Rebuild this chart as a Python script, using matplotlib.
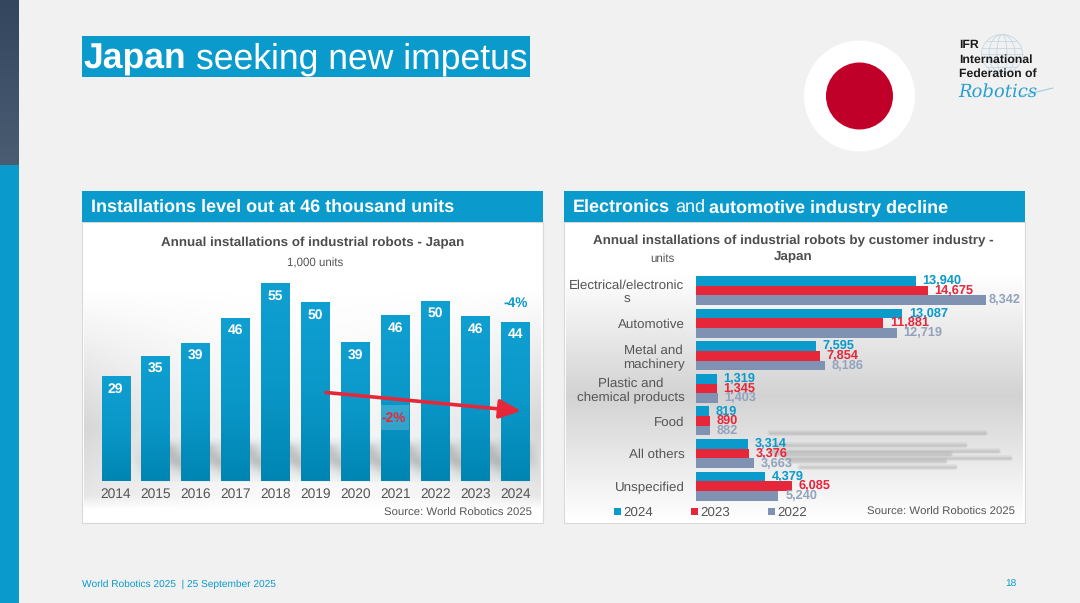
import numpy as np
import matplotlib
matplotlib.use("Agg")
import matplotlib.pyplot as plt
from matplotlib.colors import LinearSegmentedColormap
from matplotlib.patches import Rectangle, Circle, Ellipse

plt.rcParams['font.family'] = ['Liberation Sans', 'DejaVu Sans']
plt.rcParams['text.hinting'] = 'no_hinting'
plt.rcParams['text.kerning_factor'] = 6

# left chart
years = ['2014', '2015', '2016', '2017', '2018', '2019', '2020', '2021', '2022', '2023', '2024']
installs = [29, 35, 39, 46, 55, 50, 39, 46, 50, 46, 44]
bar_tops = [29.2, 34.8, 38.4, 45.4, 55.0, 49.7, 38.5, 46.1, 50.1, 45.8, 44.2]

# right chart
industries = ['Electrical/electronic\ns', 'Automotive', 'Metal and\nmachinery',
              'Plastic and\nchemical products', 'Food', 'All others', 'Unspecified']
units_2024 = [13940, 13087, 7595, 1319, 819, 3314, 4379]
units_2023 = [14675, 11881, 7854, 1345, 890, 3376, 6085]
units_2022 = [18342, 12719, 8186, 1403, 882, 3663, 5240]
# the first 2022 label is cut off in the source slide
labels_2022 = ['8,342', '12,719', '8,186', '1,403', '882', '3,663', '5,240']

BLUE = '#0a9acb'
RED = '#e6273a'
SLATE = '#7f92b2'
TEXT = '#555555'

fig = plt.figure(figsize=(10.8, 6.03), dpi=100, facecolor='#f1f1f1')

# background layer in pixel coordinates
bg = fig.add_axes([0, 0, 1, 1], zorder=0)
bg.axis('off')

side = LinearSegmentedColormap.from_list('side', ['#34465e', '#4a5c72'])
bg.imshow(np.linspace(0, 1, 50).reshape(-1, 1), extent=(0, 19, 165, 0), cmap=side, aspect='auto')
bg.add_patch(Rectangle((0, 165), 19, 438, color=BLUE, lw=0))

# title
bg.add_patch(Rectangle((82, 36), 448, 41, color=BLUE, lw=0))
bg.text(83, 68.5, 'Japan', color='white', fontsize=25.6, fontweight='bold', va='baseline')
bg.text(196, 68.5, 'seeking new impetus', color='white', fontsize=25.6, va='baseline')

# flag
bg.add_patch(Circle((859.5, 96), 55.5, color='white', lw=0))
bg.add_patch(Circle((859.5, 96), 33.5, color='#c00029', lw=0))

# IFR logo
for w in [41, 26, 10]:
    bg.add_patch(Ellipse((1002, 54), w, 39, fill=False, ec='#c3d8e4', lw=0.6))
for dy, w in [(-13, 30), (-6.5, 38), (0, 41), (6.5, 38), (13, 30)]:
    bg.plot([1002 - w / 2, 1002 + w / 2], [54 + dy, 54 + dy], color='#c3d8e4', lw=0.6)
for y, s in [(45, 'IFR'), (60, 'International'), (74, 'Federation of')]:
    bg.text(959, y, s, color='#1a1a1a', fontsize=8.8, fontweight='bold', va='center')
bg.text(958, 92, 'Robotics', color='#2a9fd0', fontsize=13, style='italic', va='center',
        family='DejaVu Serif')
bg.plot([1020, 1053], [96, 88], color='#8fcbe4', lw=0.7)

# panels
for x0 in [82, 564]:
    bg.add_patch(Rectangle((x0, 222), 461, 301, fc='white', ec='#d8d8d8', lw=0.8))
    bg.add_patch(Rectangle((x0, 191), 461, 31, color=BLUE, lw=0))

grad = np.linspace(0, 1, 200).reshape(-1, 1)
left_h = np.abs(np.linspace(-1, 1, 300))[None, :] ** 2
left_v = np.interp(np.linspace(0, 1, 200), [0, 0.2, 0.7, 0.95, 1], [0, 0, 1, 0.6, 0])[:, None]
rgba = np.ones((200, 300, 4))
rgba[..., :3] = 0.72
rgba[..., 3] = (0.12 + 0.45 * left_h) * left_v
bg.imshow(rgba, extent=(84, 541, 510, 235), aspect='auto', zorder=1)

right_v = np.interp(np.linspace(0, 1, 200), [0, 0.12, 0.55, 0.8, 1], [0, 0, 1, 0.45, 0])[:, None]
rgba = np.ones((200, 300, 4))
rgba[..., :3] = 0.72
rgba[..., 3] = 0.62 * right_v * np.ones((1, 300))
bg.imshow(rgba, extent=(566, 1023, 522, 240), aspect='auto', zorder=1)

# soft slanted floor shadow under the left bars
px, py = np.meshgrid(np.arange(130, 540), np.arange(436, 482))
slant = px + (py - 436) * -1.0
wave = 0.5 + 0.5 * np.cos(2 * np.pi * (slant - 112) / 39.96)
env = np.interp(py, [436, 446, 462, 481], [0, 0.9, 0.9, 0.2])
fade = np.interp(px, [130, 160, 520, 540], [0, 1, 1, 0])
rgba = np.ones(px.shape + (4,))
rgba[..., :3] = 0.5
rgba[..., 3] = 0.5 * env * fade * (0.45 + 0.55 * wave)
bg.imshow(rgba, extent=(130, 540, 482, 436), aspect='auto', zorder=2)

# blurry streaks behind the lower right bars
for y, x0, x1 in [(433, 770, 985), (445, 775, 965), (451, 770, 998), (454, 775, 950),
                  (458, 785, 1010), (461, 790, 945), (467, 800, 955)]:
    for lw in [1, 2.5, 4]:
        bg.plot([x0, x1], [y, y], color='#777777', alpha=0.1, lw=lw, solid_capstyle='round', zorder=2)

bg.text(91, 212, 'Installations level out at 46 thousand units', color='white', fontsize=13,
        fontweight='bold', va='baseline', zorder=3)
bg.text(573, 212, 'Electronics', color='white', fontsize=13, fontweight='bold', va='baseline', zorder=3)
bg.text(675, 212, 'and', color='white', fontsize=13, va='baseline', zorder=3)
bg.text(709, 212, 'automotive industry decline', color='white', fontsize=13, fontweight='bold',
        va='baseline', zorder=3)
bg.set_xlim(0, 1080)
bg.set_ylim(603, 0)

# left bars
ax1 = fig.add_axes([96 / 1080, 1 - 481 / 603, 439 / 1080, 211 / 603], zorder=2)
ax1.patch.set_alpha(0)
xs = np.arange(len(years))
bars = ax1.bar(xs, bar_tops, width=0.71, color=BLUE, lw=0)
bar_cmap = LinearSegmentedColormap.from_list('bars', ['#0085b2', '#0a98c9', '#109fd1'])
for bar in bars:
    x, w, h = bar.get_x(), bar.get_width(), bar.get_height()
    im = ax1.imshow(grad, extent=(x, x + w, 0, h), cmap=bar_cmap, aspect='auto', zorder=2, origin='lower')
    im.set_clip_path(bar)
for x, top, val in zip(xs, bar_tops, installs):
    ax1.text(x, top - 3.6, str(val), color='white', fontsize=10, fontweight='bold',
             ha='center', va='center', zorder=3)
ax1.set_xlim(-0.493, 10.49)
ax1.set_ylim(0, 58.6)
ax1.set_xticks(xs, years)
ax1.tick_params(axis='x', length=0, labelsize=9.9, labelcolor=TEXT, pad=5)
ax1.set_yticks([])
for s in ax1.spines.values():
    s.set_visible(False)

# right bars
ax2 = fig.add_axes([695.7 / 1080, 1 - 506 / 603, 329.3 / 1080, 236 / 603], zorder=2)
ax2.patch.set_alpha(0)
ys = np.arange(len(industries))
h = 0.295
b24 = ax2.barh(ys - h, units_2024, height=h, color=BLUE, lw=0, label='2024')
b23 = ax2.barh(ys, units_2023, height=h, color=RED, lw=0, label='2023')
b22 = ax2.barh(ys + h, units_2022, height=h, color=SLATE, lw=0, label='2022')
for y, a, b, c, c_lab in zip(ys, units_2024, units_2023, units_2022, labels_2022):
    ax2.text(a + 420, y - h, f'{a:,}', color=BLUE, fontsize=9.2, fontweight='bold', va='center')
    ax2.text(b + 420, y, f'{b:,}', color=RED, fontsize=9.2, fontweight='bold', va='center')
    ax2.text(c + 170 if c > 15000 else c + 420, y + h, c_lab, color='#93a3bd', fontsize=9.2,
             fontweight='bold', va='center')
ax2.set_xlim(0, 20842)
ax2.set_ylim(6.61, -0.629)
ax2.set_yticks(ys, industries, multialignment='center')
ax2.tick_params(axis='y', length=0, labelsize=9.6, labelcolor=TEXT, pad=8)
ax2.set_xticks([])
for s in ax2.spines.values():
    s.set_visible(False)
ax2.legend(handles=[b24, b23, b22], loc='center left', bbox_to_anchor=(614 / 1080, 1 - 513 / 603),
           bbox_transform=fig.transFigure, ncol=3, frameon=False, fontsize=9.6, labelcolor=TEXT,
           handlelength=0.5, handleheight=0.5, handletextpad=0.2, columnspacing=2.85,
           borderpad=0, borderaxespad=0)

# overlay for chart text and arrow
top = fig.add_axes([0, 0, 1, 1], zorder=5)
top.axis('off')
top.patch.set_alpha(0)

top.text(312.5, 243, 'Annual installations of industrial robots - Japan', color='#4d4d4d', fontsize=9.65,
         fontweight='bold', ha='center', va='center')
top.text(315, 263, '1,000 units', color=TEXT, fontsize=8.3, ha='center', va='center')
top.text(793.5, 249, 'Annual installations of industrial robots by customer industry -\nJapan',
         color='#4d4d4d', fontsize=9.65, fontweight='bold', ha='center', va='center', linespacing=1.4)
top.text(662, 258.5, 'units', color=TEXT, fontsize=8.3, ha='center', va='center')
top.text(532, 513, 'Source: World Robotics 2025', color=TEXT, fontsize=8.2, ha='right', va='center')
top.text(1015, 512.5, 'Source: World Robotics 2025', color=TEXT, fontsize=8.2, ha='right', va='center')
top.text(516, 303, '-4%', color=BLUE, fontsize=9.9, fontweight='bold', ha='center', va='center')

top.add_patch(Rectangle((381, 405), 28, 25, color='white', alpha=0.18, lw=0))
top.text(394, 418, '-2%', color=RED, fontsize=9.9, fontweight='bold', ha='center', va='center')
top.annotate('', xy=(521, 411), xytext=(326, 392.5),
             arrowprops=dict(arrowstyle='-|>,head_length=1.3,head_width=0.58', color=RED, lw=2.6,
                             shrinkA=0, shrinkB=0))

top.text(82, 584, 'World Robotics 2025  | 25 September 2025', color=BLUE, fontsize=7.25, va='center')
top.text(1016, 584, '18', color=BLUE, fontsize=7.25, ha='right', va='center')
top.set_xlim(0, 1080)
top.set_ylim(603, 0)

fig.savefig('out.png', dpi=100, facecolor=fig.get_facecolor())
